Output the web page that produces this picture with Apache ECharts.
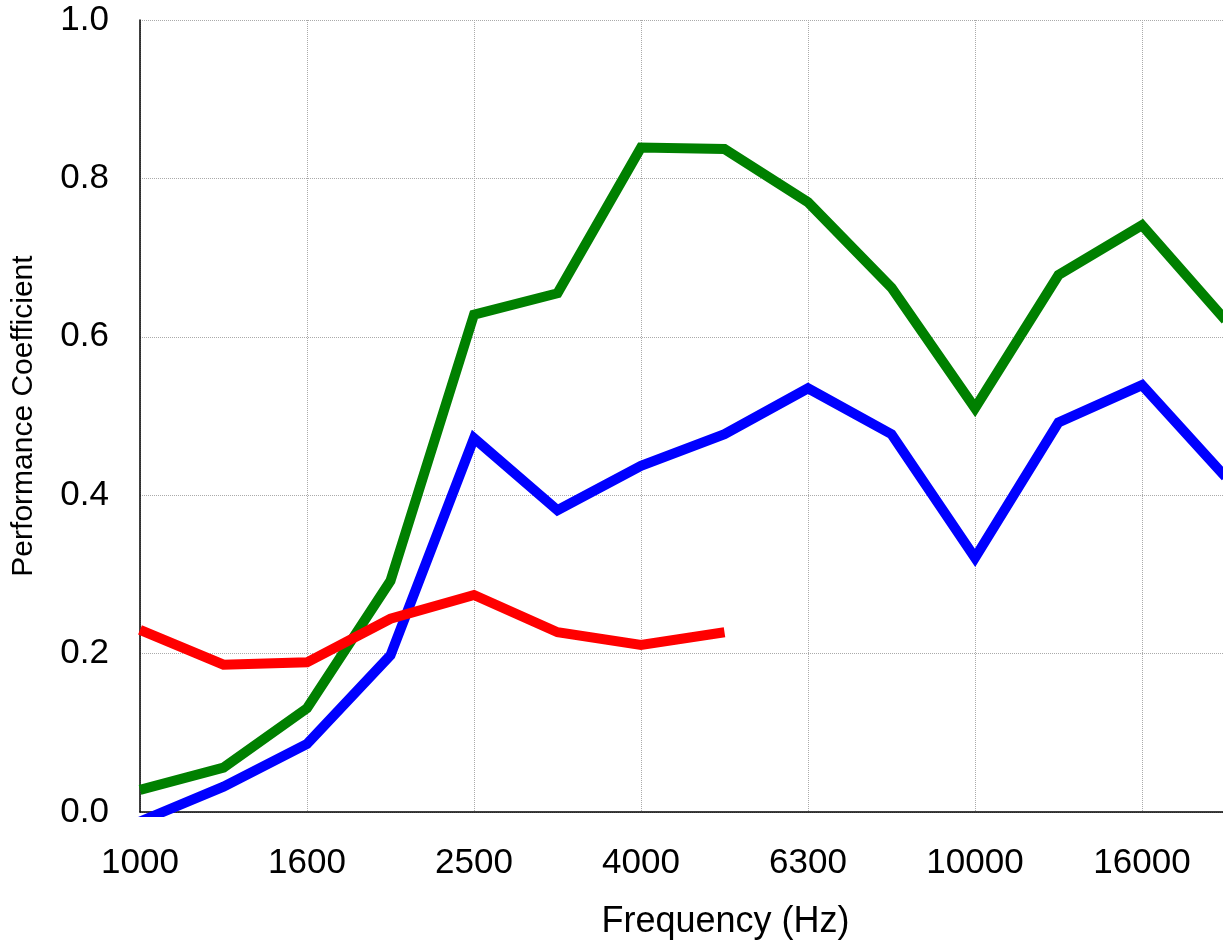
<!DOCTYPE html>
<html>
<head>
<meta charset="utf-8">
<script src="https://cdn.jsdelivr.net/npm/echarts@6/dist/echarts.min.js"></script>
<style>html,body{margin:0;padding:0;background:#fff}#c{width:1223px;height:947px}</style>
</head>
<body>
<div id="c"></div>
<script>
// 1/3-octave band frequencies (Hz)
const frequencies = ['1000','1250','1600','2000','2500','3150','4000','5000','6300','8000','10000','12500','16000','20000'];
const greenValues = [0.028, 0.056, 0.131, 0.292, 0.628, 0.655, 0.839, 0.837, 0.770, 0.662, 0.510, 0.678, 0.741, 0.621];
const blueValues  = [-0.012, 0.032, 0.086, 0.198, 0.472, 0.381, 0.437, 0.477, 0.535, 0.477, 0.321, 0.492, 0.539, 0.423];
const redValues   = [0.230, 0.186, 0.189, 0.244, 0.274, 0.227, 0.211, 0.227];
const yTicks = [0, 0.2, 0.4, 0.6, 0.8, 1.0];

const toPairs = arr => arr.map((v, i) => [i, v]);
const font = '"Liberation Sans", Arial, sans-serif';

const chart = echarts.init(document.getElementById('c'), null, {renderer: 'canvas'});
chart.setOption({
  animation: false,
  backgroundColor: '#fff',
  grid: {left: 140, top: 20, right: 0, height: 792, containLabel: false},
  xAxis: {
    type: 'value', min: 0, max: 12.97, interval: 2,
    name: 'Frequency (Hz)', nameLocation: 'middle', nameGap: 92,
    nameTextStyle: {fontSize: 36, color: '#000', fontFamily: font, padding: [0, 0, 0, 88]},
    axisLine: {show: true, lineStyle: {color: '#000', width: 1.5}},
    axisTick: {show: false},
    axisLabel: {
      fontSize: 35, color: '#000', fontFamily: font, margin: 34,
      showMaxLabel: false,
      formatter: v => frequencies[v] !== undefined ? frequencies[v] : ''
    },
    splitLine: {show: true, lineStyle: {color: '#aaa', width: 1, type: [1, 1]}}
  },
  yAxis: {
    type: 'value', min: yTicks[0], max: yTicks[yTicks.length - 1], interval: 0.2,
    name: 'Performance Coefficient', nameLocation: 'middle', nameGap: 101,
    nameTextStyle: {fontSize: 30, color: '#000', fontFamily: font},
    axisLine: {show: true, lineStyle: {color: '#000', width: 1.5}},
    axisTick: {show: false},
    axisLabel: {fontSize: 35, color: '#000', fontFamily: font, margin: 31,
      formatter: v => v.toFixed(1)},
    splitLine: {show: true, lineStyle: {color: '#aaa', width: 1, type: [1, 1]}}
  },
  series: [
    {type: 'line', data: toPairs(greenValues), showSymbol: false, symbol: 'none',
     lineStyle: {color: '#008000', width: 10, join: 'miter'}, clip: true},
    {type: 'line', data: toPairs(blueValues), showSymbol: false, symbol: 'none',
     lineStyle: {color: '#0000ff', width: 10, join: 'miter'}, clip: true},
    {type: 'line', data: toPairs(redValues), showSymbol: false, symbol: 'none',
     lineStyle: {color: '#ff0000', width: 10, join: 'miter'}, clip: true}
  ]
});
</script>
</body>
</html>
